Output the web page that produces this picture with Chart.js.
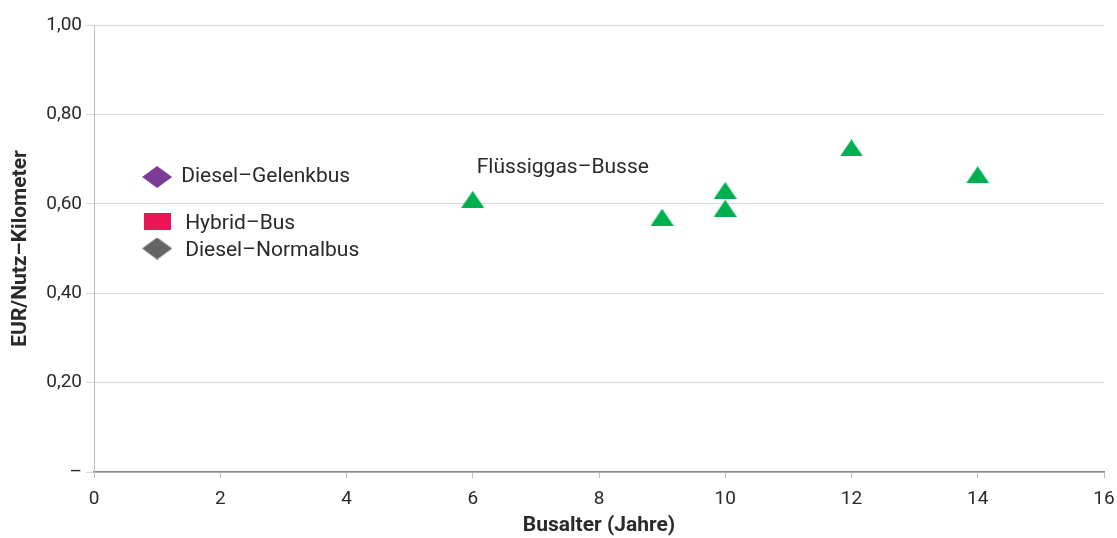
<!DOCTYPE html>
<html lang="de">
<head>
<meta charset="utf-8">
<title>Kosten je Nutz-Kilometer nach Busalter</title>
<script src="https://cdn.jsdelivr.net/npm/chart.js@4/dist/chart.umd.min.js"></script>
<style>
  html, body { margin: 0; padding: 0; background: #ffffff; }
  #wrap { width: 1117px; height: 538px; }
</style>
</head>
<body>
<div id="wrap"><canvas id="chart" width="1117" height="538"></canvas></div>
<script>
// Flüssiggas-Busse: Alter (Jahre) und Kosten (EUR je Nutz-Kilometer)
const gasAge  = [6, 9, 10, 10, 12, 14];
const gasCost = [0.61, 0.57, 0.63, 0.59, 0.725, 0.665];

// Vergleichsfahrzeuge
const gelenkAge  = [1];
const gelenkCost = [0.66];
const hybridAge  = [1];
const hybridCost = [0.56];
const normalAge  = [1];
const normalCost = [0.50];

// Achsen
const xTicks = [0, 2, 4, 6, 8, 10, 12, 14, 16];
const yTicks = [0, 0.2, 0.4, 0.6, 0.8, 1.0];

const FONT = "Roboto, 'Liberation Sans', sans-serif";
const TEXT = '#2b2a29';

// Markerformen als kleine Bilder
function marker(w, h, color, draw) {
  const c = document.createElement('canvas');
  c.width = w; c.height = h;
  const g = c.getContext('2d');
  g.fillStyle = color;
  g.beginPath();
  draw(g, w, h);
  g.closePath();
  g.fill();
  return c;
}
const diamond = (g, w, h) => { g.moveTo(w / 2, 0); g.lineTo(w, h / 2); g.lineTo(w / 2, h); g.lineTo(0, h / 2); };
const rect = (g, w, h) => { g.rect(0, 0, w, h); };
const triangle = (g, w, h) => { g.moveTo(w / 2, 0); g.lineTo(w, h); g.lineTo(0, h); };

const purpleDiamond = marker(30, 22, '#7b3b97', diamond);
const redSquare     = marker(27, 17, '#ea1554', rect);
const greyDiamond   = marker(30, 22, '#636466', diamond);
const greenTriangle = marker(23, 17, '#00b050', triangle);

const pts = (xs, ys) => xs.map((x, i) => ({ x, y: ys[i] }));

// Beschriftungen an einzelnen Punkten
const pointLabels = {
  id: 'pointLabels',
  afterDatasetsDraw(chart) {
    const ctx = chart.ctx;
    ctx.save();
    ctx.fillStyle = TEXT;
    ctx.font = `21px ${FONT}`;
    ctx.textAlign = 'left';
    ctx.textBaseline = 'middle';
    chart.data.datasets.forEach((ds, di) => {
      if (!ds.tag) return;
      const el = chart.getDatasetMeta(di).data[ds.tag.index];
      ctx.fillText(ds.tag.text, el.x + ds.tag.dx, el.y + ds.tag.dy);
    });
    ctx.restore();
  }
};

// Achsentitel
const axisTitles = {
  id: 'axisTitles',
  afterDraw(chart) {
    const ctx = chart.ctx;
    const a = chart.chartArea;
    ctx.save();
    ctx.fillStyle = TEXT;
    ctx.font = `bold 21px ${FONT}`;
    ctx.textAlign = 'center';
    ctx.textBaseline = 'middle';
    ctx.fillText('Busalter (Jahre)', (a.left + a.right) / 2, 526);
    ctx.translate(21, (a.top + a.bottom) / 2);
    ctx.rotate(-Math.PI / 2);
    ctx.fillText('EUR/Nutz–Kilometer', 0, 0);
    ctx.restore();
  }
};

new Chart(document.getElementById('chart'), {
  type: 'scatter',
  data: {
    datasets: [
      {
        label: 'Flüssiggas–Busse',
        data: pts(gasAge, gasCost),
        pointStyle: greenTriangle,
        tag: { index: 0, text: 'Flüssiggas–Busse', dx: 4, dy: -32 }
      },
      {
        label: 'Diesel–Gelenkbus',
        data: pts(gelenkAge, gelenkCost),
        pointStyle: purpleDiamond,
        tag: { index: 0, text: 'Diesel–Gelenkbus', dx: 24, dy: 0 }
      },
      {
        label: 'Hybrid–Bus',
        data: pts(hybridAge, hybridCost),
        pointStyle: redSquare,
        tag: { index: 0, text: 'Hybrid–Bus', dx: 28, dy: 2 }
      },
      {
        label: 'Diesel–Normalbus',
        data: pts(normalAge, normalCost),
        pointStyle: greyDiamond,
        tag: { index: 0, text: 'Diesel–Normalbus', dx: 28, dy: 2 }
      }
    ]
  },
  options: {
    responsive: false,
    animation: false,
    events: [],
    layout: { padding: { top: 25, right: 13, left: 0, bottom: 0 } },
    plugins: {
      legend: { display: false },
      tooltip: { enabled: false }
    },
    scales: {
      x: {
        type: 'linear',
        min: xTicks[0],
        max: xTicks[xTicks.length - 1],
        afterBuildTicks(scale) { scale.ticks = xTicks.map(v => ({ value: v })); },
        afterFit(scale) {
          scale.height = 66;
          scale.paddingLeft = 0;
          scale.paddingRight = 0;
        },
        grid: {
          drawOnChartArea: false,
          drawTicks: true,
          tickLength: 6,
          color: '#bdbdbd'
        },
        border: { color: '#8a8a8a', width: 1.5 },
        ticks: {
          color: TEXT,
          font: { family: FONT, size: 19 },
          padding: 10,
          callback: v => String(v)
        }
      },
      y: {
        type: 'linear',
        min: yTicks[0],
        max: yTicks[yTicks.length - 1],
        afterBuildTicks(scale) { scale.ticks = yTicks.map(v => ({ value: v })); },
        afterFit(scale) { scale.width = 94; },
        grid: {
          color: '#d9d9d9',
          lineWidth: 1,
          drawTicks: true,
          tickLength: 8
        },
        border: { color: '#bdbdbd', width: 1 },
        ticks: {
          color: TEXT,
          font: { family: FONT, size: 19 },
          padding: 4,
          callback: v => v === 0 ? '–' : v.toFixed(2).replace('.', ',')
        }
      }
    }
  },
  plugins: [pointLabels, axisTitles]
});
</script>
</body>
</html>
